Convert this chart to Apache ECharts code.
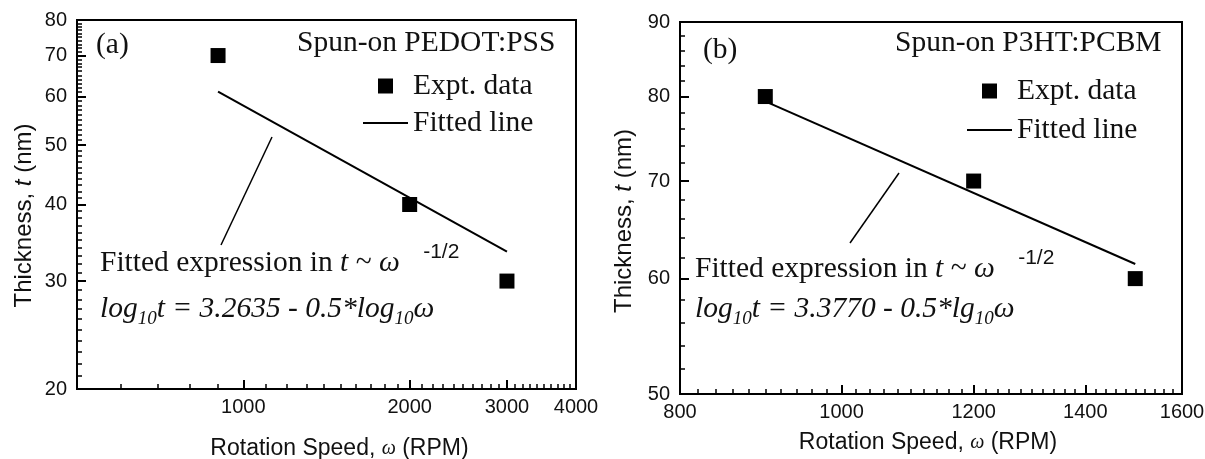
<!DOCTYPE html>
<html><head><meta charset="utf-8">
<script src="https://cdn.jsdelivr.net/npm/echarts@6/dist/echarts.min.js"></script>
<style>html,body{margin:0;padding:0;background:#fff}#c{width:1205px;height:459px}</style>
</head><body><div id="c"></div>
<script>
// ---------- Panel (a): PEDOT:PSS ----------
const aSpeed = [900, 2000, 3000];
const aThick = [70, 40, 30];
const aFitSpeed = [900, 3000];
const aFitThick = [61.1, 33.5];
const aXTicks = [1000, 2000, 3000, 4000];
const aYTicks = [20, 30, 40, 50, 60, 70, 80];
// ---------- Panel (b): P3HT:PCBM ----------
const bSpeed = [900, 1200, 1500];
const bThick = [80, 70, 60];
const bFitSpeed = [900, 1500];
const bFitThick = [79.4, 61.4];
const bXTicks = [800, 1000, 1200, 1400, 1600];
const bYTicks = [50, 60, 70, 80, 90];

function steps(a, b, s) { const r = []; for (let v = a; v <= b + 1e-9; v += s) r.push(v); return r; }
const aXMinor = steps(500, 4000, 100);
const aYMinor = steps(20, 80, 1);
const bXMinor = steps(800, 1600, 20);
const bYMinor = steps(50, 90, 2);

const SANS = '"Liberation Sans", Arial, sans-serif';
const SERIF = '"Liberation Serif", "Times New Roman", serif';
const INK = '#111';
const FS = 29.5;

function zip(x, y) { return x.map((v, i) => [v, y[i]]); }

const chart = echarts.init(document.getElementById('c'), null, { renderer: 'canvas' });

function majorX(grid, min, max, ticks, name, gap, pad) {
  return {
    type: 'log', logBase: 10, gridIndex: grid, min: min, max: max, position: 'bottom',
    axisLine: { show: true, onZero: false, lineStyle: { color: '#000', width: 2 } },
    axisTick: { show: true, inside: true, length: 9, customValues: ticks, lineStyle: { color: '#000', width: 2 } },
    axisLabel: { show: true, customValues: ticks, margin: 8, fontFamily: SANS, fontSize: 20, color: INK,
      formatter: v => String(Math.round(v)) },
    minorTick: { show: false }, splitLine: { show: false },
    name: name, nameLocation: 'middle', nameGap: gap,
    nameTextStyle: { fontFamily: SANS, fontSize: 23, color: INK, padding: pad,
      rich: { w: { fontFamily: SERIF, fontStyle: 'italic', fontSize: 20, color: INK } } }
  };
}
function minorX(grid, min, max, ticks) {
  return {
    type: 'log', logBase: 10, gridIndex: grid, min: min, max: max, position: 'bottom',
    axisLine: { show: false, onZero: false },
    axisTick: { show: true, inside: true, length: 5, customValues: ticks, lineStyle: { color: '#000', width: 1.5 } },
    axisLabel: { show: false }, splitLine: { show: false }
  };
}
function majorY(grid, min, max, ticks, gap, pad) {
  return {
    type: 'log', logBase: 10, gridIndex: grid, min: min, max: max, position: 'left',
    axisLine: { show: true, onZero: false, lineStyle: { color: '#000', width: 2 } },
    axisTick: { show: true, inside: true, length: 9, customValues: ticks, lineStyle: { color: '#000', width: 2 } },
    axisLabel: { show: true, customValues: ticks, margin: 10, fontFamily: SANS, fontSize: 20, color: INK,
      formatter: v => String(Math.round(v)) },
    splitLine: { show: false },
    name: 'Thickness, {i|t} (nm)', nameLocation: 'middle', nameRotate: 90, nameGap: gap,
    nameTextStyle: { fontFamily: SANS, fontSize: 24, color: INK, padding: pad,
      rich: { i: { fontFamily: SANS, fontStyle: 'italic', fontSize: 24, color: INK } } }
  };
}
function minorY(grid, min, max, ticks) {
  return {
    type: 'log', logBase: 10, gridIndex: grid, min: min, max: max, position: 'left',
    axisLine: { show: false, onZero: false },
    axisTick: { show: true, inside: true, length: 5, customValues: ticks, lineStyle: { color: '#000', width: 1.5 } },
    axisLabel: { show: false }, splitLine: { show: false }
  };
}

const txt = (x, y, text) => ({
  type: 'text', x: x, y: y, silent: true,
  style: { text: text, fontFamily: SERIF, fontSize: FS, fill: INK, verticalAlign: 'middle' }
});
const supRich = {
  m: { fontFamily: SERIF, fontSize: FS, lineHeight: 30, verticalAlign: 'bottom', fill: INK },
  i: { fontFamily: SERIF, fontSize: FS, fontStyle: 'italic', lineHeight: 30, verticalAlign: 'bottom', fill: INK },
  s: { fontFamily: SANS, fontSize: 21, lineHeight: 36, verticalAlign: 'top', fill: INK }
};
const subRich = {
  i: { fontFamily: SERIF, fontSize: FS, fontStyle: 'italic', lineHeight: 30, verticalAlign: 'top', fill: INK },
  b: { fontFamily: SERIF, fontSize: 19, fontStyle: 'italic', lineHeight: 34, verticalAlign: 'bottom', fill: INK }
};
const SQUARE = 'path://M0 0H10V10H0Z';
const BAR = 'path://M0 0H45V2H0Z';

const option = {
  backgroundColor: '#fff',
  animation: false,
  grid: [
    { left: 77, top: 20, width: 499, height: 369, show: true, borderColor: '#000', borderWidth: 2,
      containLabel: false, outerBoundsMode: 'none' },
    { left: 680, top: 22, width: 502, height: 372, show: true, borderColor: '#000', borderWidth: 2,
      containLabel: false, outerBoundsMode: 'none' }
  ],
  xAxis: [
    majorX(0, 500, 4000, aXTicks, 'Rotation Speed, {w|ω} (RPM)', 48, [0, 0, 0, 26]),
    minorX(0, 500, 4000, aXMinor),
    majorX(1, 800, 1600, bXTicks, 'Rotation Speed, {w|ω} (RPM)', 37, [0, 6, 0, 0]),
    minorX(1, 800, 1600, bXMinor)
  ],
  yAxis: [
    majorY(0, 20, 80, aYTicks, 41, [0, 22, 0, 0]),
    minorY(0, 20, 80, aYMinor),
    majorY(1, 50, 90, bYTicks, 44, [0, 26, 0, 0]),
    minorY(1, 50, 90, bYMinor)
  ],
  legend: [
    { orient: 'vertical', left: 358, top: 66, itemWidth: 45, itemHeight: 15, itemGap: 7, selectedMode: false,
      symbolKeepAspect: true,
      data: [{ name: 'Expt. data', icon: SQUARE }, { name: 'Fitted line', icon: BAR }],
      textStyle: { fontFamily: SERIF, fontSize: FS, lineHeight: 28, color: INK } },
    { orient: 'vertical', left: 962, top: 71, itemWidth: 45, itemHeight: 15, itemGap: 9, selectedMode: false,
      symbolKeepAspect: true,
      data: [{ name: 'Expt. data', icon: SQUARE }, { name: 'Fitted line', icon: BAR }],
      textStyle: { fontFamily: SERIF, fontSize: FS, lineHeight: 28, color: INK } }
  ],
  series: [
    { name: 'Expt. data', type: 'scatter', xAxisIndex: 0, yAxisIndex: 0, data: zip(aSpeed, aThick),
      symbol: 'rect', symbolSize: 15, itemStyle: { color: '#000', opacity: 1 }, z: 3 },
    { name: 'Fitted line', type: 'line', xAxisIndex: 0, yAxisIndex: 0, data: zip(aFitSpeed, aFitThick),
      symbol: 'none', lineStyle: { color: '#000', width: 2 }, itemStyle: { color: '#000' } },
    { name: 'Expt. data', type: 'scatter', xAxisIndex: 2, yAxisIndex: 2, data: zip(bSpeed, bThick),
      symbol: 'rect', symbolSize: 15, itemStyle: { color: '#000', opacity: 1 }, z: 3 },
    { name: 'Fitted line', type: 'line', xAxisIndex: 2, yAxisIndex: 2, data: zip(bFitSpeed, bFitThick),
      symbol: 'none', lineStyle: { color: '#000', width: 2 }, itemStyle: { color: '#000' } }
  ],
  graphic: [
    // panel (a)
    txt(96, 45, '(a)'),
    txt(297, 43, 'Spun-on PEDOT:PSS'),
    { type: 'line', silent: true, shape: { x1: 272, y1: 137, x2: 221, y2: 245 }, style: { stroke: '#000', lineWidth: 1.5 } },
    { type: 'text', x: 100, y: 242, silent: true,
      style: { text: '{m|Fitted expression in }{i|t}{m| ~ }{i|ω}{s|    -1/2}', rich: supRich, verticalAlign: 'top' } },
    { type: 'text', x: 100, y: 294, silent: true,
      style: { text: '{i|log}{b|10}{i|t = 3.2635 - 0.5*log}{b|10}{i|ω}', rich: subRich, verticalAlign: 'top' } },
    // panel (b)
    txt(703, 50, '(b)'),
    txt(895, 43, 'Spun-on P3HT:PCBM'),
    { type: 'line', silent: true, shape: { x1: 899, y1: 173, x2: 850, y2: 243 }, style: { stroke: '#000', lineWidth: 1.5 } },
    { type: 'text', x: 695, y: 248, silent: true,
      style: { text: '{m|Fitted expression in }{i|t}{m| ~ }{i|ω}{s|    -1/2}', rich: supRich, verticalAlign: 'top' } },
    { type: 'text', x: 695, y: 294, silent: true,
      style: { text: '{i|log}{b|10}{i|t = 3.3770 - 0.5*lg}{b|10}{i|ω}', rich: subRich, verticalAlign: 'top' } }
  ]
};
chart.setOption(option);
</script>
</body></html>
